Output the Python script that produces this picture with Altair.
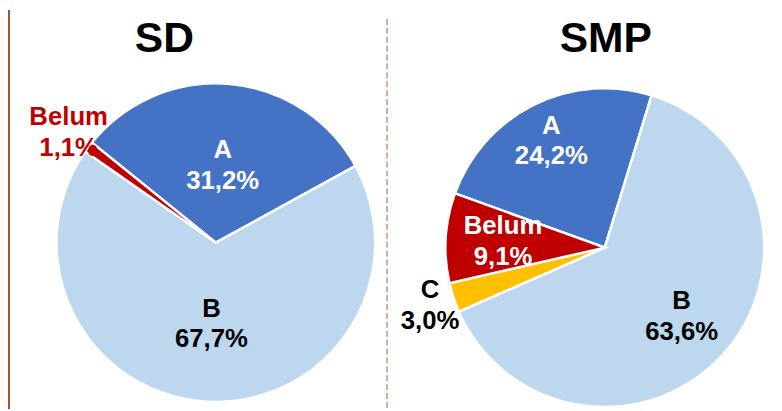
import math
import altair as alt
import pandas as pd

# ---- data ----
sd_categories = ["A", "B", "Belum"]
sd_values = [31.2, 67.7, 1.1]
smp_categories = ["A", "B", "C", "Belum"]
smp_values = [24.2, 63.6, 3.0, 9.1]
panel_titles = ["SD", "SMP"]

color_domain = ["A", "B", "C", "Belum"]
color_range = ["#4472C4", "#BDD7EE", "#FFC000", "#C00000"]

FONT = "Liberation Sans"


def frame(cats, vals):
    return pd.DataFrame({
        "cat": cats,
        "val": vals,
        "idx": list(range(len(cats))),
        "label": [f"{c}\n{v:.1f}%".replace(".", ",") for c, v in zip(cats, vals)],
    })


def pie(df, cx, cy, start_deg, label_specs):
    start = math.radians(start_deg)
    theta = alt.Theta("val:Q", stack=True,
                      scale=alt.Scale(range=[start, start + 2 * math.pi]))
    base = alt.Chart(df).encode(
        theta=theta,
        order=alt.Order("idx:Q"),
        x=alt.value(cx),
        y=alt.value(cy),
    )
    arcs = base.mark_arc(outerRadius=161, stroke="white", strokeWidth=2.5).encode(
        color=alt.Color("cat:N",
                        scale=alt.Scale(domain=color_domain, range=color_range),
                        legend=None)
    )
    layers = [arcs]
    for cat, r, col in label_specs:
        layers.append(
            base.mark_text(radius=r, font=FONT, fontSize=26, fontWeight="bold",
                           color=col, lineBreak="\n", align="center",
                           baseline="middle", lineHeight=31, dy=-15)
            .encode(detail="cat:N", text="t:N")
            .transform_calculate(t=f"datum.cat == '{cat}' ? datum.label : ''")
        )
    return alt.layer(*layers)


sd_pie = pie(frame(sd_categories, sd_values), 210, 235, -51.1, [
    ("A", 79, "white"),
    ("B", 82, "black"),
    ("Belum", 186, "#C00000"),
])
smp_pie = pie(frame(smp_categories, smp_values), 603, 240, -70.1, [
    ("A", 121, "white"),
    ("Belum", 103, "white"),
    ("B", 104, "black"),
    ("C", 186, "black"),
])

title_x = [158, 604]
titles = [
    alt.Chart(pd.DataFrame({"t": [t]}))
    .mark_text(font=FONT, fontSize=43, fontWeight="bold", color="black",
               align="center", baseline="alphabetic")
    .encode(text="t:N", x=alt.value(x), y=alt.value(42))
    for t, x in zip(panel_titles, title_x)
]

one = pd.DataFrame({"a": [0]})
divider = alt.Chart(one).mark_rule(color="#C8956B", strokeWidth=1.5,
                                   strokeDash=[6, 3]).encode(
    x=alt.value(383), y=alt.value(9), y2=alt.value(403))
border = alt.Chart(one).mark_rule(color="#A0522D", strokeWidth=2).encode(
    x=alt.value(1), y=alt.value(0), y2=alt.value(403))

chart = (
    alt.layer(sd_pie, smp_pie, *titles, divider, border)
    .resolve_scale(theta="independent")
    .properties(width=774, height=403, autosize="none", padding=0,
                background="white")
    .configure_view(stroke=None)
)

chart.save("out.html", embed_options={"renderer": "svg", "actions": False})
